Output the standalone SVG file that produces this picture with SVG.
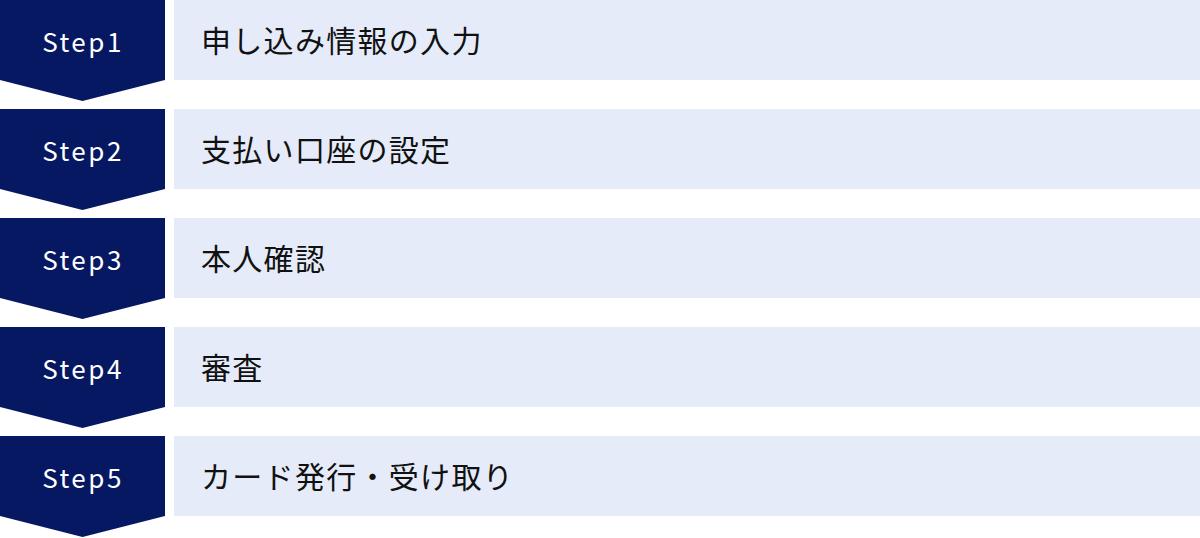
<svg xmlns="http://www.w3.org/2000/svg" width="1200" height="538" viewBox="0 0 1200 538">
<style>
.chev{fill:#061862}
.bar{fill:#e5ebf8}
.st{font-family:"Noto Sans CJK JP","Noto Sans",sans-serif;font-size:26px;fill:#ffffff;letter-spacing:2.5px;text-anchor:middle;dominant-baseline:central}
.lb{font-family:"Noto Sans CJK JP","Noto Sans",sans-serif;font-size:30px;fill:#111111;letter-spacing:1.3px;dominant-baseline:central}
</style>
<rect width="1200" height="538" fill="#ffffff"/>
<g id="step1">
<polygon class="chev" points="0,0 165,0 165,80 82.5,101 0,80"/>
<text class="st" x="83" y="40">Step1</text>
<rect class="bar" x="174" y="0" width="1026" height="80"/>
<text class="lb" x="201" y="39">申し込み情報の入力</text>
</g>
<g id="step2">
<polygon class="chev" points="0,109 165,109 165,189 82.5,210 0,189"/>
<text class="st" x="83" y="149">Step2</text>
<rect class="bar" x="174" y="109" width="1026" height="80"/>
<text class="lb" x="201" y="148">支払い口座の設定</text>
</g>
<g id="step3">
<polygon class="chev" points="0,218 165,218 165,298 82.5,319 0,298"/>
<text class="st" x="83" y="258">Step3</text>
<rect class="bar" x="174" y="218" width="1026" height="80"/>
<text class="lb" x="201" y="257">本人確認</text>
</g>
<g id="step4">
<polygon class="chev" points="0,327 165,327 165,407 82.5,428 0,407"/>
<text class="st" x="83" y="367">Step4</text>
<rect class="bar" x="174" y="327" width="1026" height="80"/>
<text class="lb" x="201" y="366">審査</text>
</g>
<g id="step5">
<polygon class="chev" points="0,436 165,436 165,516 82.5,537 0,516"/>
<text class="st" x="83" y="476">Step5</text>
<rect class="bar" x="174" y="436" width="1026" height="80"/>
<text class="lb" x="201" y="475">カード発行・受け取り</text>
</g>
<g id="connectors"></g>
</svg>
